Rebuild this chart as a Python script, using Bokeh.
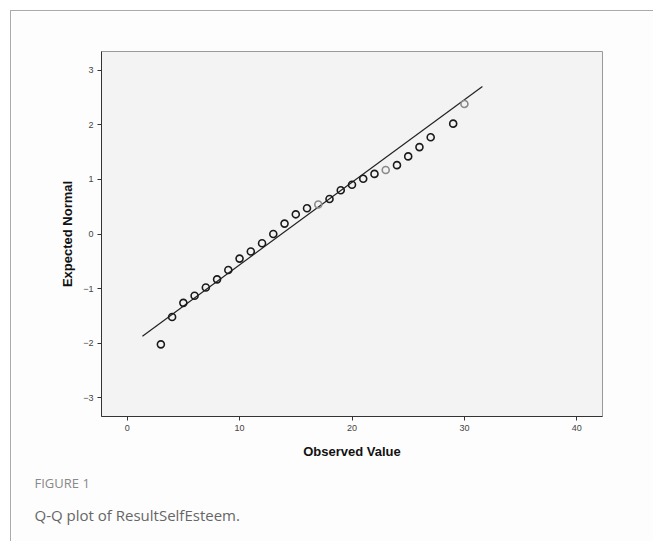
from bokeh.plotting import figure
from bokeh.models import Range1d, Title, FixedTicker, ColumnDataSource
from bokeh.embed import file_html
from bokeh.resources import INLINE

# Data
observed = [3, 4, 5, 6, 7, 8, 9, 10, 11, 12, 13, 14, 15, 16, 17, 18, 19, 20,
            21, 22, 23, 24, 25, 26, 27, 29, 30]
expected = [-2.02, -1.52, -1.26, -1.13, -0.98, -0.83, -0.66, -0.45, -0.32, -0.17,
            0.00, 0.19, 0.36, 0.47, 0.54, 0.64, 0.80, 0.90, 1.01, 1.10, 1.17,
            1.26, 1.42, 1.59, 1.77, 2.02, 2.38]
faded = [17, 23, 30]
line_x = [1.36, 31.6]
line_mean = 13.74
line_sd = 6.62
x_ticks = [0, 10, 20, 30, 40]
y_ticks = [-3, -2, -1, 0, 1, 2, 3]

colors = ["#8a8a8a" if o in faded else "#1a1a1a" for o in observed]
src = ColumnDataSource(dict(x=observed, y=expected, c=colors))
line_y = [(v - line_mean) / line_sd for v in line_x]

W, H = 643, 531
p = figure(width=W, height=H, output_backend="svg", toolbar_location=None,
           x_range=Range1d(-2.28, 42.28), y_range=Range1d(-3.34, 3.34),
           min_border_left=90, min_border_right=52, min_border_top=40,
           min_border_bottom=126)
p.styles = {"margin-left": "10px", "margin-top": "10px",
            "border-left": "1px solid #aaaaaa", "border-top": "1px solid #aaaaaa"}
p.background_fill_color = "#f3f3f3"
p.border_fill_color = "#fdfdfd"
p.outline_line_color = "#9a9a9a"
p.outline_line_width = 1
p.grid.visible = False

p.xaxis.ticker = FixedTicker(ticks=x_ticks)
p.yaxis.ticker = FixedTicker(ticks=y_ticks)
for ax in (p.xaxis[0], p.yaxis[0]):
    ax.axis_line_color = "#333333"
    ax.axis_line_width = 1
    ax.major_tick_line_color = "#333333"
    ax.major_tick_out = 4
    ax.major_tick_in = 0
    ax.minor_tick_line_color = None
    ax.major_label_text_font = "Liberation Sans"
    ax.major_label_text_font_size = "9px"
    ax.major_label_text_color = "#444444"
    ax.major_label_standoff = 4
    ax.axis_label_text_font = "Liberation Sans"
    ax.axis_label_text_font_size = "13px"
    ax.axis_label_text_font_style = "bold"
    ax.axis_label_text_color = "#111111"
p.xaxis.axis_label = "Observed Value"
p.yaxis.axis_label = "Expected Normal"
p.xaxis.axis_label_standoff = 10
p.yaxis.axis_label_standoff = 5

p.line(line_x, line_y, line_color="#222222", line_width=1.2)
p.scatter("x", "y", source=src, marker="circle", size=7, fill_color=None,
          line_color="c", line_width=1.6)

p.add_layout(Title(text="FIGURE 1", align="left", offset=-67, standoff=20,
                   text_font="Open Sans", text_font_size="13px",
                   text_font_style="normal", text_color="#888888"), "below")
p.add_layout(Title(text="Q-Q plot of ResultSelfEsteem.", align="left", offset=-67,
                   standoff=2, text_font="Open Sans", text_font_size="15px",
                   text_font_style="normal", text_color="#666666"), "below")

open("out.html", "w").write(file_html(p, INLINE))
